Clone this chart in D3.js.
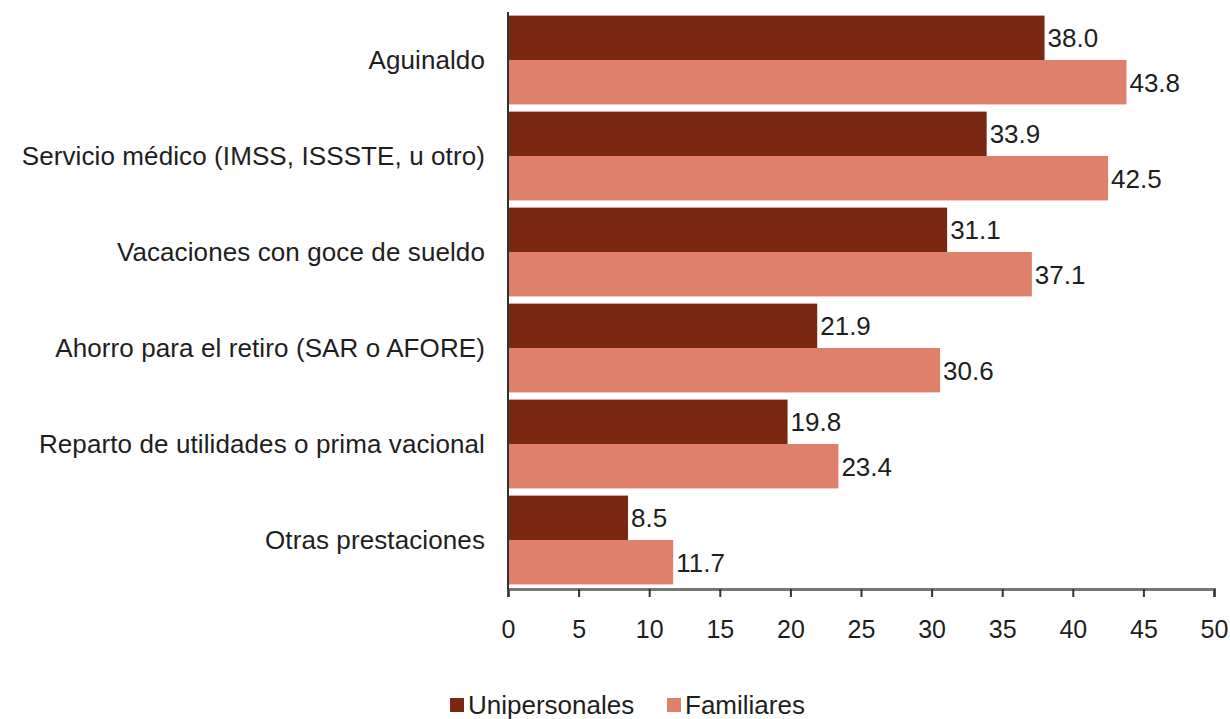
<!DOCTYPE html>
<html>
<head>
<meta charset="utf-8">
<script src="https://cdn.jsdelivr.net/npm/d3@7"></script>
<style>
  body { margin: 0; background: #fff; }
  text { font-family: "Liberation Sans", Arial, sans-serif; fill: #1e1e1e; }
</style>
</head>
<body>
<div id="chart"></div>
<script>
const categories = [
    'Aguinaldo',
    'Servicio médico (IMSS, ISSSTE, u otro)',
    'Vacaciones con goce de sueldo',
    'Ahorro para el retiro (SAR o AFORE)',
    'Reparto de utilidades o prima vacional',
    'Otras prestaciones'
];
const unipersonales = [38.0, 33.9, 31.1, 21.9, 19.8, 8.5];
const familiares = [43.8, 42.5, 37.1, 30.6, 23.4, 11.7];
const seriesNames = ['Unipersonales', 'Familiares'];
const xTicks = [0, 5, 10, 15, 20, 25, 30, 35, 40, 45, 50];

const width = 1230;
const height = 719;
const colors = ['#7a2812', '#de806a'];

const x = d3.scaleLinear().domain([0, 50]).range([508, 1214]);
const y = d3.scaleBand().domain(categories).range([12, 588])
    .paddingInner(0.075).paddingOuter(0.0375);
const sub = d3.scaleBand().domain(seriesNames).range([0, y.bandwidth()]);

const svg = d3.select('#chart')
    .append('svg')
    .attr('width', width)
    .attr('height', height);

const rows = categories.map((c, i) => ({ cat: c, vals: [unipersonales[i], familiares[i]] }));

const g = svg.selectAll('g.row')
    .data(rows)
    .join('g')
    .attr('class', 'row')
    .attr('transform', d => `translate(0,${y(d.cat)})`);

g.selectAll('rect')
    .data(d => d.vals.map((v, k) => ({ v, k })))
    .join('rect')
    .attr('x', x(0))
    .attr('y', d => sub(seriesNames[d.k]))
    .attr('width', d => x(d.v) - x(0))
    .attr('height', sub.bandwidth())
    .style('fill', d => colors[d.k]);

// value labels
g.selectAll('text.val')
    .data(d => d.vals.map((v, k) => ({ v, k })))
    .join('text')
    .attr('class', 'val')
    .attr('x', d => x(d.v) + 3)
    .attr('y', d => sub(seriesNames[d.k]) + sub.bandwidth() / 2)
    .attr('dy', '0.36em')
    .style('font-size', '26px')
    .text(d => d.v.toFixed(1));

// category labels
svg.selectAll('text.cat')
    .data(categories)
    .join('text')
    .attr('class', 'cat')
    .attr('x', 485)
    .attr('y', d => y(d) + y.bandwidth() / 2)
    .attr('dy', '0.36em')
    .attr('text-anchor', 'end')
    .style('font-size', '26px')
    .style('letter-spacing', '0.1px')
    .text(d => d);

// x axis
const xAxis = d3.axisBottom(x).tickValues(xTicks).tickSize(8).tickPadding(23).tickFormat(d3.format('d'));
const ax = svg.append('g')
    .attr('transform', `translate(0,589)`)
    .call(xAxis);
ax.select('.domain').attr('stroke', '#777').attr('stroke-width', 3);
ax.selectAll('.tick line').attr('stroke', '#333').attr('stroke-width', 2);
ax.selectAll('.tick text').style('font-size', '25px').style('fill', '#1e1e1e').style('font-family', '"Liberation Sans", Arial, sans-serif');

// y axis line
svg.append('line')
    .attr('x1', x(0)).attr('x2', x(0))
    .attr('y1', 12).attr('y2', 590)
    .attr('stroke', '#333')
    .attr('stroke-width', 2);

// legend
const legendItems = [
    { name: seriesNames[0], color: colors[0], x: 450 },
    { name: seriesNames[1], color: colors[1], x: 667 }
];
const lg = svg.selectAll('g.legend')
    .data(legendItems)
    .join('g')
    .attr('class', 'legend')
    .attr('transform', d => `translate(${d.x},705)`);
lg.append('rect')
    .attr('x', 0).attr('y', -7)
    .attr('width', 14).attr('height', 14)
    .style('fill', d => d.color);
lg.append('text')
    .attr('x', 18)
    .attr('y', 0)
    .attr('dy', '0.36em')
    .style('font-size', '26px')
    .text(d => d.name);
</script>
</body>
</html>
